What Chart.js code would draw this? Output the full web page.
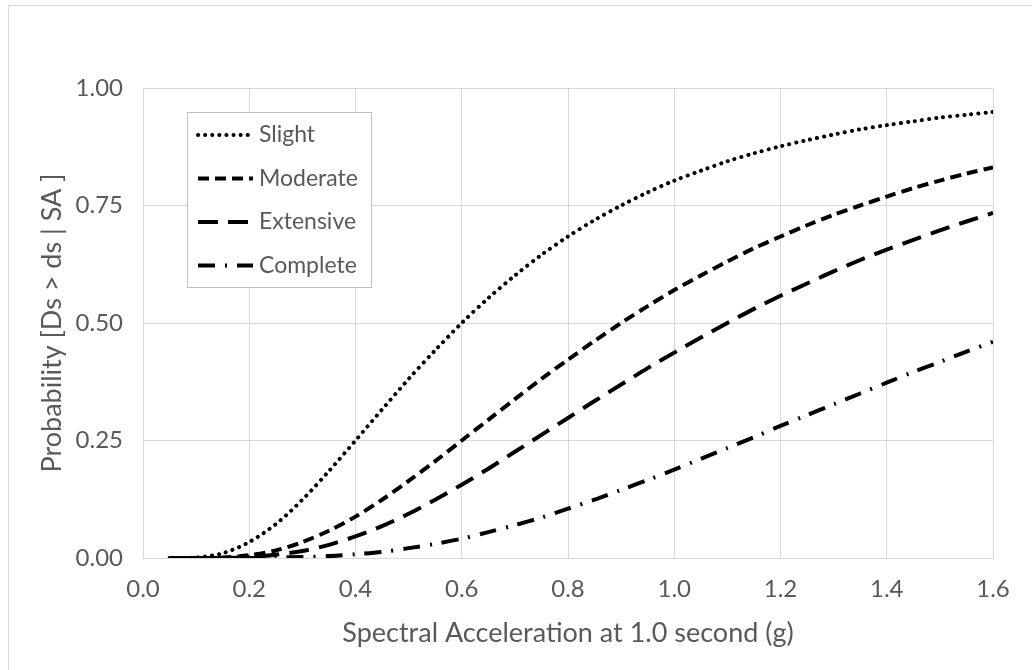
<!DOCTYPE html>
<html>
<head>
<meta charset="utf-8">
<script src="https://cdn.jsdelivr.net/npm/chart.js@4"></script>
<style>
  html, body { margin: 0; padding: 0; background: #fff; }
  #wrap { position: relative; width: 1032px; height: 670px; overflow: hidden; }
  #frame { position: absolute; left: 8px; top: 5px; width: 1100px; height: 720px; border: 1px solid #d9d9d9; }
  canvas { position: absolute; left: 0; top: 0; }
</style>
</head>
<body>
<div id="wrap">
  <div id="frame"></div>
  <canvas id="myChart" width="1032" height="670"></canvas>
</div>
<script>
const sa = [0.05, 0.10, 0.15, 0.20, 0.25, 0.30, 0.35, 0.40, 0.45, 0.50, 0.55, 0.60, 0.65, 0.70, 0.75, 0.80,
  0.85, 0.90, 0.95, 1.00, 1.05, 1.10, 1.15, 1.20, 1.25, 1.30, 1.35, 1.40, 1.45, 1.50, 1.55, 1.60];

const slight = [0.000, 0.001, 0.010, 0.034, 0.072, 0.124, 0.185, 0.250, 0.316, 0.381, 0.442, 0.500, 0.553, 0.601, 0.645, 0.684,
  0.719, 0.750, 0.778, 0.803, 0.824, 0.844, 0.861, 0.876, 0.889, 0.901, 0.912, 0.921, 0.929, 0.937, 0.943, 0.949];
const moderate = [0.000, 0.000, 0.001, 0.006, 0.016, 0.034, 0.058, 0.088, 0.124, 0.164, 0.206, 0.250, 0.294, 0.338, 0.381, 0.422,
  0.462, 0.500, 0.536, 0.570, 0.601, 0.631, 0.659, 0.684, 0.708, 0.730, 0.750, 0.769, 0.787, 0.803, 0.818, 0.831];
const extensive = [0.000, 0.000, 0.000, 0.002, 0.007, 0.015, 0.028, 0.046, 0.068, 0.094, 0.124, 0.156, 0.190, 0.226, 0.262, 0.298,
  0.334, 0.369, 0.404, 0.437, 0.469, 0.500, 0.530, 0.558, 0.584, 0.610, 0.634, 0.656, 0.677, 0.697, 0.716, 0.734];
const complete = [0.000, 0.000, 0.000, 0.000, 0.001, 0.002, 0.004, 0.008, 0.013, 0.021, 0.030, 0.041, 0.055, 0.070, 0.086, 0.105,
  0.124, 0.145, 0.166, 0.188, 0.211, 0.234, 0.257, 0.281, 0.304, 0.327, 0.350, 0.373, 0.396, 0.417, 0.439, 0.460];

const seriesNames = ["Slight", "Moderate", "Extensive", "Complete"];
const seriesValues = [slight, moderate, extensive, complete];
const dashes = [[0.1, 7], [11, 6], [20, 10], [17, 10, 2, 10]];
const caps = ["round", "butt", "butt", "butt"];

const FONT = "Lato, 'Open Sans', sans-serif";
const GREY = "#595959";
const GRID = "#d9d9d9";

// legend drawn inside the plot like the Excel original
const insideLegend = {
  id: "insideLegend",
  afterDraw(chart) {
    const ctx = chart.ctx;
    const area = chart.chartArea;
    const x0 = area.left + 44, y0 = area.top + 24;
    const w = 184, h = 175;
    ctx.save();
    ctx.fillStyle = "#fff";
    ctx.fillRect(x0, y0, w, h);
    ctx.strokeStyle = "#bfbfbf";
    ctx.lineWidth = 1;
    ctx.strokeRect(x0 + 0.5, y0 + 0.5, w, h);
    chart.data.datasets.forEach((ds, i) => {
      const y = y0 + 23 + i * 43.5;
      ctx.beginPath();
      ctx.setLineDash(ds.borderDash);
      ctx.lineCap = ds.borderCapStyle;
      ctx.lineWidth = ds.borderWidth;
      ctx.strokeStyle = ds.borderColor;
      ctx.moveTo(x0 + 11, y);
      ctx.lineTo(x0 + 66, y);
      ctx.stroke();
      ctx.setLineDash([]);
      ctx.fillStyle = GREY;
      ctx.font = "23px " + FONT;
      ctx.textBaseline = "middle";
      ctx.fillText(ds.label, x0 + 72, y);
    });
    ctx.restore();
  }
};

const ctx = document.getElementById("myChart").getContext("2d");

const myChart = new Chart(ctx, {
  type: "line",
  data: {
    datasets: seriesNames.map((name, i) => ({
      label: name,
      data: sa.map((x, j) => ({ x: x, y: seriesValues[i][j] })),
      borderColor: "#000",
      borderWidth: 4,
      borderDash: dashes[i],
      borderCapStyle: caps[i],
      pointRadius: 0,
      tension: 0.3,
      fill: false,
    })),
  },
  options: {
    responsive: false,
    animation: false,
    layout: { padding: { left: 8, right: 39, top: 88, bottom: 21 } },
    plugins: {
      legend: { display: false },
      tooltip: { enabled: false },
    },
    scales: {
      x: {
        type: "linear",
        min: 0,
        max: 1.6,
        afterFit(scale) { scale.height = 91; },
        ticks: {
          stepSize: 0.2,
          color: GREY,
          font: { family: FONT, size: 24 },
          padding: 17,
          callback: (v) => v.toFixed(1),
        },
        grid: { color: GRID, drawTicks: false },
        border: { color: GRID },
        title: {
          display: true,
          text: "Spectral Acceleration at 1.0 second (g)",
          color: GREY,
          font: { family: FONT, size: 27 },
          padding: { top: 4, bottom: 0 },
        },
      },
      y: {
        min: 0,
        max: 1,
        afterFit(scale) { scale.width = 135; },
        ticks: {
          stepSize: 0.25,
          color: GREY,
          font: { family: FONT, size: 24 },
          padding: 20,
          callback: (v) => v.toFixed(2),
        },
        grid: { color: GRID, drawTicks: false },
        border: { color: GRID },
        title: {
          display: true,
          text: "Probability [Ds > ds | SA ]",
          color: GREY,
          font: { family: FONT, size: 27 },
          padding: { top: 28 },
        },
      },
    },
  },
  plugins: [insideLegend],
});
</script>
</body>
</html>
